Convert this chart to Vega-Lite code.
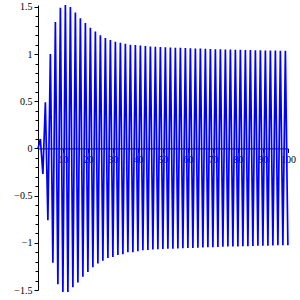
{
  "$schema": "https://vega.github.io/schema/vega-lite/v6.json",
  "width": 250,
  "height": 285,
  "autosize": {"type": "none"},
  "padding": {"left": 38, "top": 5, "right": 12, "bottom": 10},
  "background": "white",
  "config": {"view": {"stroke": null}},
  "data": {"values": [
    {"x": 0, "y": 0},
    {"x": 0.95, "y": 0.10}, {"x": 1.95, "y": -0.27},
    {"x": 2.95, "y": 0.49}, {"x": 3.95, "y": -0.76},
    {"x": 4.95, "y": 1.00}, {"x": 5.95, "y": -1.21},
    {"x": 6.95, "y": 1.34}, {"x": 7.95, "y": -1.44},
    {"x": 8.95, "y": 1.49}, {"x": 9.95, "y": -1.52},
    {"x": 10.95, "y": 1.52}, {"x": 11.95, "y": -1.52},
    {"x": 12.95, "y": 1.50}, {"x": 13.95, "y": -1.47},
    {"x": 14.95, "y": 1.44}, {"x": 15.95, "y": -1.42},
    {"x": 16.95, "y": 1.38}, {"x": 17.95, "y": -1.36},
    {"x": 18.95, "y": 1.33}, {"x": 19.95, "y": -1.31},
    {"x": 20.95, "y": 1.28}, {"x": 21.95, "y": -1.26},
    {"x": 22.95, "y": 1.24}, {"x": 23.95, "y": -1.22},
    {"x": 24.95, "y": 1.20}, {"x": 25.95, "y": -1.19},
    {"x": 26.95, "y": 1.17}, {"x": 27.95, "y": -1.16},
    {"x": 28.95, "y": 1.15}, {"x": 29.95, "y": -1.15},
    {"x": 30.95, "y": 1.13}, {"x": 31.95, "y": -1.13},
    {"x": 32.95, "y": 1.12}, {"x": 33.95, "y": -1.12},
    {"x": 34.95, "y": 1.11}, {"x": 35.95, "y": -1.10},
    {"x": 36.95, "y": 1.10}, {"x": 37.95, "y": -1.10},
    {"x": 38.95, "y": 1.095}, {"x": 39.95, "y": -1.09},
    {"x": 40.95, "y": 1.09}, {"x": 41.95, "y": -1.08},
    {"x": 42.95, "y": 1.085}, {"x": 43.95, "y": -1.075},
    {"x": 44.95, "y": 1.08}, {"x": 45.95, "y": -1.07},
    {"x": 46.95, "y": 1.078}, {"x": 47.95, "y": -1.068},
    {"x": 48.95, "y": 1.075}, {"x": 49.95, "y": -1.066},
    {"x": 50.95, "y": 1.072}, {"x": 51.95, "y": -1.064},
    {"x": 52.95, "y": 1.07}, {"x": 53.95, "y": -1.062},
    {"x": 54.95, "y": 1.068}, {"x": 55.95, "y": -1.06},
    {"x": 56.95, "y": 1.066}, {"x": 57.95, "y": -1.058},
    {"x": 58.95, "y": 1.064}, {"x": 59.95, "y": -1.056},
    {"x": 60.95, "y": 1.062}, {"x": 61.95, "y": -1.054},
    {"x": 62.95, "y": 1.06}, {"x": 63.95, "y": -1.052},
    {"x": 64.95, "y": 1.058}, {"x": 65.95, "y": -1.05},
    {"x": 66.95, "y": 1.056}, {"x": 67.95, "y": -1.048},
    {"x": 68.95, "y": 1.054}, {"x": 69.95, "y": -1.046},
    {"x": 70.95, "y": 1.052}, {"x": 71.95, "y": -1.044},
    {"x": 72.95, "y": 1.05}, {"x": 73.95, "y": -1.042},
    {"x": 74.95, "y": 1.049}, {"x": 75.95, "y": -1.04},
    {"x": 76.95, "y": 1.048}, {"x": 77.95, "y": -1.039},
    {"x": 78.95, "y": 1.046}, {"x": 79.95, "y": -1.038},
    {"x": 80.95, "y": 1.045}, {"x": 81.95, "y": -1.036},
    {"x": 82.95, "y": 1.044}, {"x": 83.95, "y": -1.035},
    {"x": 84.95, "y": 1.042}, {"x": 85.95, "y": -1.034},
    {"x": 86.95, "y": 1.041}, {"x": 87.95, "y": -1.032},
    {"x": 88.95, "y": 1.04}, {"x": 89.95, "y": -1.031},
    {"x": 90.95, "y": 1.039}, {"x": 91.95, "y": -1.03},
    {"x": 92.95, "y": 1.038}, {"x": 93.95, "y": -1.028},
    {"x": 94.95, "y": 1.037}, {"x": 95.95, "y": -1.027},
    {"x": 96.95, "y": 1.036}, {"x": 97.95, "y": -1.026},
    {"x": 98.95, "y": 1.035}, {"x": 99.95, "y": -1.025}
  ]},
  "mark": {"type": "line", "color": "#0000ff", "strokeWidth": 1.7, "clip": false},
  "encoding": {
    "x": {
      "field": "x", "type": "quantitative",
      "scale": {"domain": [0, 100], "nice": false, "zero": false},
      "axis": {
        "orient": "bottom",
        "offset": -141.6,
        "title": null,
        "grid": false,
        "values": [5, 10, 15, 20, 25, 30, 35, 40, 45, 50, 55, 60, 65, 70, 75, 80, 85, 90, 95, 100],
        "labelExpr": "datum.value % 10 === 0 ? format(datum.value, 'd') : ''",
        "tickSize": {"condition": {"test": "datum.value % 10 === 0", "value": 4}, "value": 3},
        "tickColor": "black",
        "domainColor": "black",
        "labelColor": "black",
        "labelFont": "Liberation Serif",
        "labelFontSize": 10,
        "labelPadding": 2,
        "labelFlush": false,
        "labelOverlap": false
      }
    },
    "y": {
      "field": "y", "type": "quantitative",
      "scale": {"domain": [-1.5, 1.52], "nice": false, "zero": false},
      "axis": {
        "orient": "left",
        "title": null,
        "grid": false,
        "values": [-1.5, -1.4, -1.3, -1.2, -1.1, -1, -0.9, -0.8, -0.7, -0.6, -0.5, -0.4, -0.3, -0.2, -0.1, 0, 0.1, 0.2, 0.3, 0.4, 0.5, 0.6, 0.7, 0.8, 0.9, 1, 1.1, 1.2, 1.3, 1.4, 1.5],
        "labelExpr": "abs(round(datum.value * 10)) % 5 === 0 ? format(datum.value, '~g') : ''",
        "tickSize": {"condition": {"test": "abs(round(datum.value * 10)) % 5 === 0", "value": 4}, "value": 3},
        "tickColor": "black",
        "domainColor": "black",
        "labelColor": "black",
        "labelFont": "Liberation Serif",
        "labelFontSize": 10,
        "labelPadding": 2,
        "labelFlush": false,
        "labelOverlap": false
      }
    }
  }
}
